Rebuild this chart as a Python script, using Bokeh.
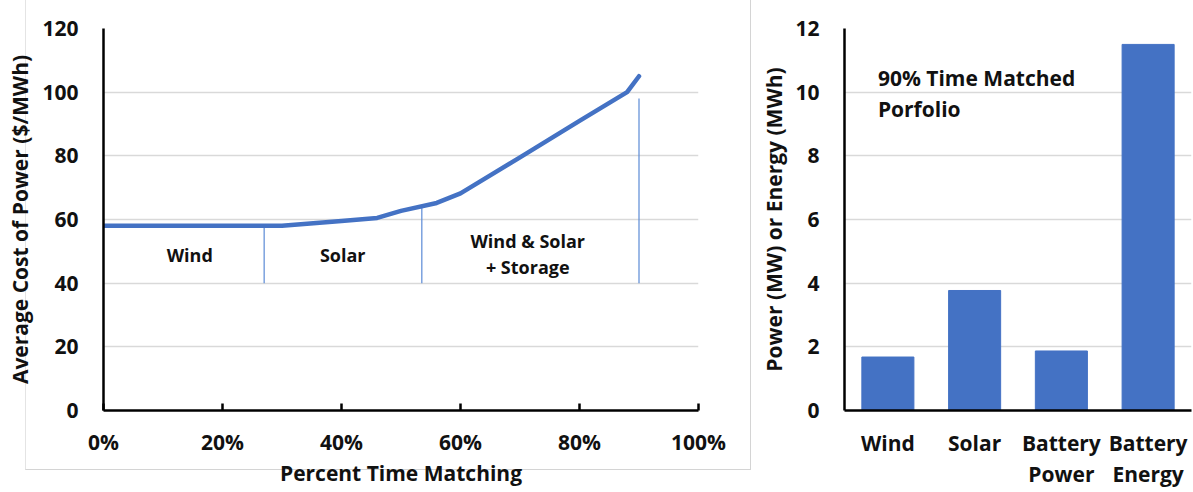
from bokeh.plotting import figure
from bokeh.layouts import row
from bokeh.models import (FixedTicker, NumeralTickFormatter, Range1d, FactorRange,
                          ColumnDataSource, InlineStyleSheet)
from bokeh.core.properties import value
from bokeh.embed import file_html
from bokeh.resources import INLINE

# ---------------- data ----------------
match_pct = [0.0, 0.10, 0.20, 0.30, 0.40, 0.46, 0.50, 0.56, 0.60, 0.70, 0.80, 0.88, 0.90]
avg_cost = [58, 58, 58, 58, 59.5, 60.5, 62.7, 65.2, 68.2, 79.5, 91, 100, 105]

sep_x = [0.27, 0.535, 0.90]
sep_bottom = [40, 40, 40]
sep_top = [58, 64, 98]

region_labels = ["Wind", "Solar", "Wind & Solar", "+ Storage"]
region_x = [0.145, 0.402, 0.713, 0.713]
region_y = [48.7, 48.7, 53.4, 45.2]

x_ticks = [0, 0.2, 0.4, 0.6, 0.8, 1.0]
cost_ticks = [0, 20, 40, 60, 80, 100, 120]

categories = ["Wind", "Solar", "Battery\nPower", "Battery\nEnergy"]
capacity = [1.68, 3.77, 1.87, 11.5]
cap_ticks = [0, 2, 4, 6, 8, 10, 12]

note_lines = ["90% Time Matched", "Porfolio"]
note_x = [0.385, 0.385]
note_y = [10.44, 9.48]

# ---------------- styles ----------------
FONT = "Open Sans"
BLUE = "#4472C4"
GRID = "#d9d9d9"
TXT = "#111111"

def style_axes(p):
    for ax in (p.xaxis[0], p.yaxis[0]):
        ax.axis_line_color = "black"
        ax.axis_line_width = 2.5
        ax.major_label_text_font = FONT
        ax.major_label_text_font_style = "bold"
        ax.major_label_text_font_size = "21px"
        ax.major_label_text_color = TXT
        ax.axis_label_text_font = FONT
        ax.axis_label_text_font_style = "bold"
        ax.axis_label_text_font_size = "21px"
        ax.axis_label_text_color = TXT
        ax.minor_tick_line_color = None
    p.xgrid.grid_line_color = None
    p.ygrid.grid_line_color = GRID
    p.ygrid.grid_line_width = 1.5
    p.outline_line_color = None
    p.background_fill_color = "white"
    p.border_fill_color = "white"

# ---------------- left chart ----------------
left = figure(width=757, height=492, output_backend="svg", toolbar_location=None,
              x_range=Range1d(0, 1), y_range=Range1d(0, 120),
              min_border_left=103, min_border_right=59,
              min_border_top=28, min_border_bottom=82)
style_axes(left)
left.border_fill_color = None
left.xaxis.ticker = FixedTicker(ticks=x_ticks)
left.xaxis.formatter = NumeralTickFormatter(format="0%")
left.yaxis.ticker = FixedTicker(ticks=cost_ticks)
left.ygrid.ticker = FixedTicker(ticks=cost_ticks[1:])
left.xaxis.major_tick_in = 7
left.xaxis.major_tick_out = 0
left.xaxis.major_tick_line_width = 2.5
left.xaxis.major_tick_line_color = "black"
left.xaxis.major_label_standoff = 17
left.xaxis.axis_label = "Percent Time Matching"
left.xaxis.axis_label_standoff = 0
left.yaxis.major_tick_line_color = None
left.yaxis.major_tick_in = 0
left.yaxis.major_tick_out = 0
left.yaxis.major_label_standoff = 25
left.yaxis.axis_label = "Average Cost of Power ($/MWh)"
left.yaxis.axis_label_standoff = 5

# faint chart-area border of the left panel, drawn behind the canvas
left.stylesheets = [InlineStyleSheet(css="""
:host::before {
  content: "";
  position: absolute;
  left: 25px; top: -2px; width: 726px; height: 472px;
  border-left: 1px solid #e4e4e4;
  border-right: 1px solid #d4d4d4;
  border-bottom: 1px solid #d4d4d4;
  pointer-events: none;
}
""")]

left.segment(x0=sep_x, y0=sep_bottom, x1=sep_x, y1=sep_top,
             line_color="#5b8ad6", line_width=1.2)
left.line(match_pct, avg_cost, line_color=BLUE, line_width=4.5,
          line_cap="round", line_join="round")
left.text(x=region_x, y=region_y, text=region_labels,
          text_font=value(FONT), text_font_style="bold", text_font_size="18px",
          text_align="center", text_baseline="middle", text_color=TXT)

# ---------------- right chart ----------------
right = figure(width=436, height=492, output_backend="svg", toolbar_location=None,
               x_range=FactorRange(*categories), y_range=Range1d(0, 12),
               min_border_left=86, min_border_right=2,
               min_border_top=27, min_border_bottom=80)
style_axes(right)
right.yaxis.ticker = FixedTicker(ticks=cap_ticks)
right.ygrid.ticker = FixedTicker(ticks=cap_ticks[1:])
for ax in (right.xaxis[0], right.yaxis[0]):
    ax.major_tick_line_color = None
    ax.major_tick_in = 0
    ax.major_tick_out = 0
right.xaxis.major_label_standoff = 18
right.xaxis.major_label_text_line_height = 1.12
right.yaxis.major_label_standoff = 25
right.yaxis.axis_label = "Power (MW) or Energy (MWh)"
right.yaxis.axis_label_standoff = 4

src = ColumnDataSource(dict(cat=categories, val=capacity))
right.vbar(x="cat", top="val", width=0.6, source=src,
           fill_color=BLUE, line_color=BLUE)
right.text(x=note_x, y=note_y, text=note_lines,
           text_font=value(FONT), text_font_style="bold", text_font_size="21px",
           text_align="left", text_baseline="middle", text_color=TXT)

layout = row(left, right)
open("out.html", "w").write(file_html(layout, INLINE))
